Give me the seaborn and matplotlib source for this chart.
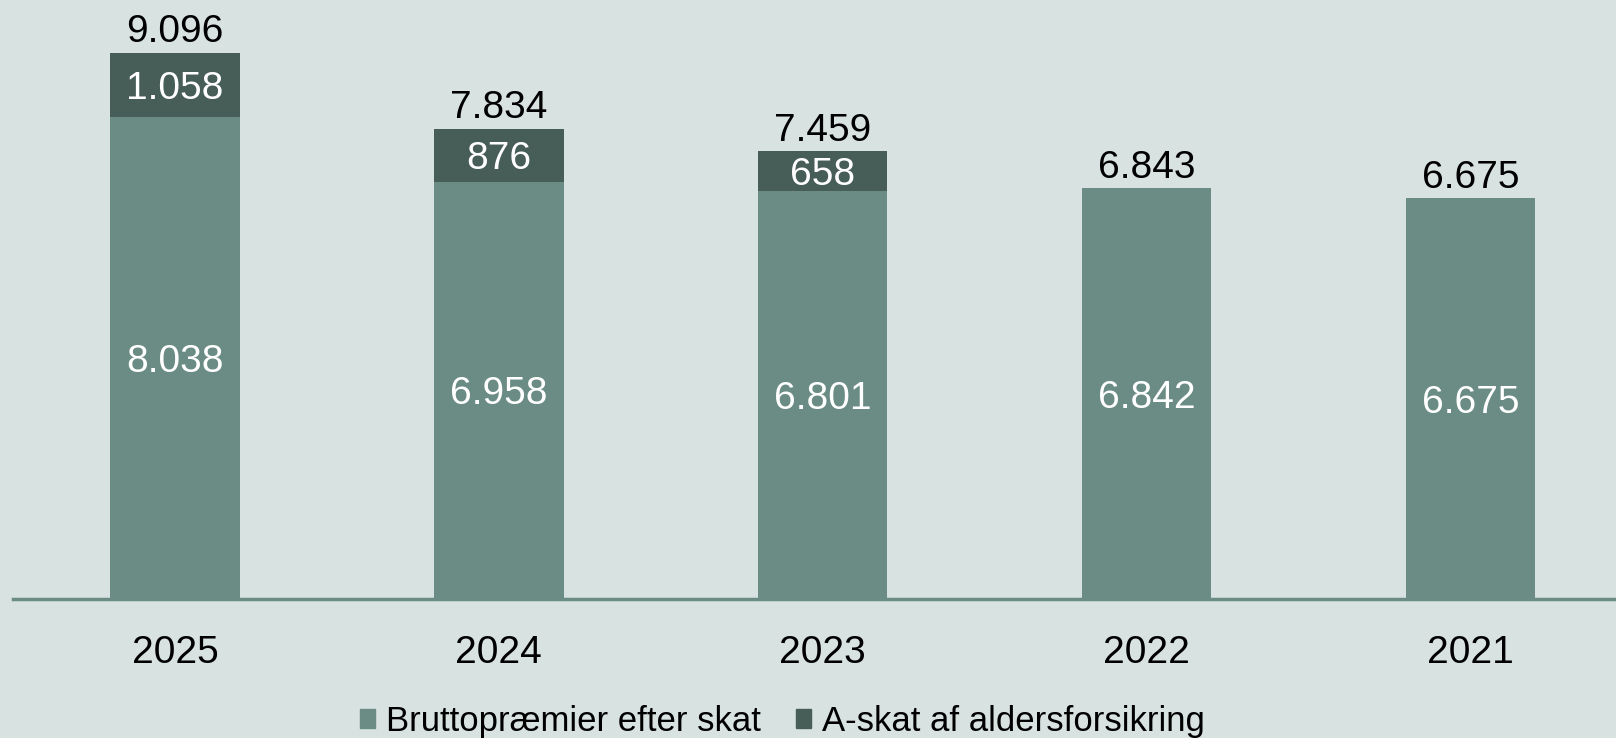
import pandas as pd
import matplotlib
matplotlib.use("Agg")
import matplotlib.pyplot as plt
import seaborn as sns
from matplotlib.patches import Patch

# -----------------------------
# Data
# -----------------------------
years = ["2025", "2024", "2023", "2022", "2021"]
brutto = [8038, 6958, 6801, 6842, 6675]
askat = [1058, 876, 658, 1, 0]
totals = [9096, 7834, 7459, 6843, 6675]

LIGHT = "#6a8c84"
DARK = "#475d57"
BG = "#d8e2e0"

df = pd.DataFrame({"year": years, "brutto": brutto, "askat": askat, "total": totals})


def fmt(v):
    return f"{v:,}".replace(",", ".")


sns.set_theme(style="white")
plt.rcParams["font.family"] = ["Liberation Sans", "DejaVu Sans"]

fig = plt.figure(figsize=(16.16, 7.38), dpi=100, facecolor=BG)
ax = fig.add_axes([13 / 1616, 139 / 738, 1 - 13 / 1616, 600 / 738])
ax.set_facecolor(BG)

# dark total bars underneath, light brutto bars on top -> stacked look
sns.barplot(data=df, x="year", y="total", color=DARK, saturation=1,
            width=0.4, ax=ax, linewidth=0)
sns.barplot(data=df, x="year", y="brutto", color=LIGHT, saturation=1,
            width=0.4, ax=ax, linewidth=0)

# labels
ax.bar_label(ax.containers[0], labels=[fmt(v) for v in totals],
             padding=2, fontsize=28, color="black")
for i, (b, a) in enumerate(zip(brutto, askat)):
    ax.text(i, b / 2, fmt(b), ha="center", va="center_baseline",
            fontsize=28, color="white")
    if a > 100:
        ax.text(i, b + a / 2, fmt(a), ha="center", va="center_baseline",
                fontsize=28, color="white")

ax.set_xlim(-0.5, 4.45)
ax.set_ylim(0, 10000)
ax.set_xlabel("")
ax.set_ylabel("")
ax.set_yticks([])
ax.tick_params(axis="x", length=0, pad=26, labelsize=28, colors="black")

for s in ["top", "right", "left"]:
    ax.spines[s].set_visible(False)
ax.spines["bottom"].set_color(LIGHT)
ax.spines["bottom"].set_linewidth(2.5)

handles = [Patch(color=LIGHT, label="Bruttopræmier efter skat"),
           Patch(color=DARK, label="A-skat af aldersforsikring")]
fig.legend(handles=handles, loc="lower center", bbox_to_anchor=(0.484, -0.042),
           ncol=2, frameon=False, fontsize=25, handlelength=0.45,
           handleheight=0.45, handletextpad=0.3, columnspacing=1.0,
           labelcolor="black")

plt.savefig("out.png", dpi=100, facecolor=BG)
plt.close()
